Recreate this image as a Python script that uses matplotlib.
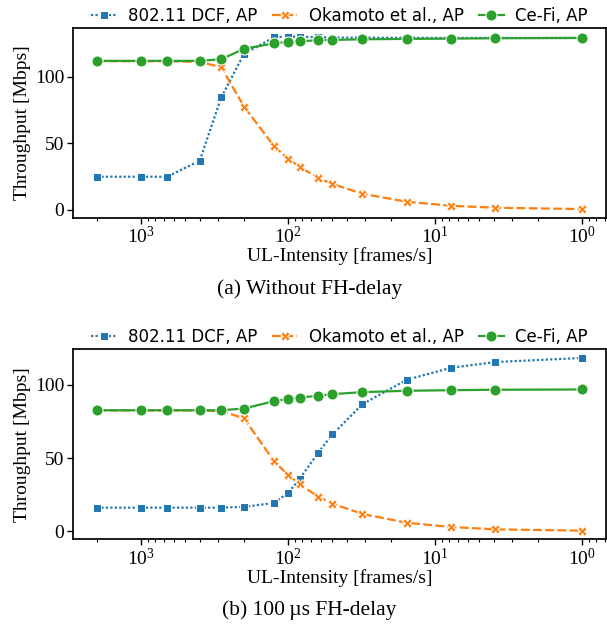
import matplotlib
matplotlib.use("Agg")
import matplotlib.pyplot as plt

# UL intensity (frames/s)
intensity = [2000, 1000, 666.7, 400, 285.7, 200, 125, 100, 83.33, 62.5, 50,
             31.25, 15.625, 7.8125, 3.906, 1]

series_names = ["802.11 DCF, AP", "Okamoto et al., AP", "Ce-Fi, AP"]

# (a) Without FH-delay
dcf_a = [24.8, 24.8, 24.8, 36.8, 84.3, 117.0, 129.5, 130.0, 130.0, 129.5, 129.3,
         129.2, 129.1, 129.0, 129.0, 129.0]
oka_a = [111.5, 111.5, 111.5, 111.0, 107.0, 77.5, 47.8, 38.3, 32.0, 24.0, 19.3,
         12.0, 6.0, 3.0, 1.5, 0.5]
cefi_a = [111.8, 111.8, 111.8, 111.8, 113.0, 120.8, 125.0, 126.0, 126.5, 127.3,
          127.5, 128.0, 128.3, 128.5, 128.8, 129.0]

# (b) 100 us FH-delay
dcf_b = [16.2, 16.2, 16.2, 16.2, 16.2, 16.7, 19.4, 26.3, 36.0, 53.7, 66.2, 86.8,
         103.4, 111.6, 115.5, 118.3]
oka_b = [82.5, 82.5, 82.5, 82.5, 82.0, 77.2, 47.9, 38.4, 32.0, 23.7, 18.9, 11.9,
         5.9, 3.0, 1.4, 0.5]
cefi_b = [82.6, 82.6, 82.6, 82.6, 82.6, 83.8, 88.8, 90.4, 91.3, 92.5, 93.6, 95.0,
          95.9, 96.3, 96.6, 96.8]

captions = ["(a) Without FH-delay", "(b) 100\u2009\u00b5s FH-delay"]
xlabel = "UL-Intensity [frames/s]"
ylabel = "Throughput [Mbps]"
yticks = [0, 50, 100]

colors = ["#1f77b4", "#ff7f0e", "#2ca02c"]
markers = ["s", "X", "o"]
msizes = [5.5, 7.0, 8.0]
dashes = [(1, 1), (4, 1.5), ()]

serif = ["Liberation Serif", "DejaVu Serif"]
plt.rcParams["mathtext.fontset"] = "stix"
plt.rcParams["font.family"] = serif

fig = plt.figure(figsize=(6.07, 6.24), dpi=100)
W, H = 607, 624
ax_a = fig.add_axes([72.7 / W, 1 - 217.7 / H, (606.5 - 72.7) / W, 189.7 / H])
ax_b = fig.add_axes([72.7 / W, 1 - 539.3 / H, (606.5 - 72.7) / W, 190.0 / H])

data = [(dcf_a, oka_a, cefi_a), (dcf_b, oka_b, cefi_b)]
for ax, ys, cap in zip([ax_a, ax_b], data, captions):
    for y, name, c, m, ms, d in zip(ys, series_names, colors, markers, msizes, dashes):
        line, = ax.plot(intensity, y, color=c, marker=m, markersize=ms,
                        markeredgecolor="white", markeredgewidth=0.75,
                        lw=1.6, label=name)
        if d:
            line.set_dashes(d)
    ax.set_xscale("log")
    ax.invert_xaxis()
    ax.set_yticks(yticks)
    ax.tick_params(axis="both", labelsize=14, direction="out", width=1.0, length=4,
                   pad=2)
    ax.tick_params(axis="x", which="minor", length=2.5, width=0.8)
    for s in ax.spines.values():
        s.set_linewidth(1.25)
    ax.set_xlabel(xlabel, fontsize=14, labelpad=0)
    ax.set_ylabel(ylabel, fontsize=14, labelpad=3)
    leg = ax.legend(loc="lower center", bbox_to_anchor=(0.5, 1.0), ncol=3,
                    frameon=False, borderaxespad=0.0, columnspacing=0.9,
                    handlelength=1.5, handletextpad=0.7, borderpad=0.2,
                    prop={"family": "DejaVu Sans", "size": 12})

fig.text(0.51, 1 - 289 / H, captions[0], ha="center", va="center", fontsize=15.5,
         family=serif)
fig.text(0.51, 1 - 610 / H, captions[1], ha="center", va="center", fontsize=15.5,
         family=serif)

fig.savefig("out.png", dpi=100)
